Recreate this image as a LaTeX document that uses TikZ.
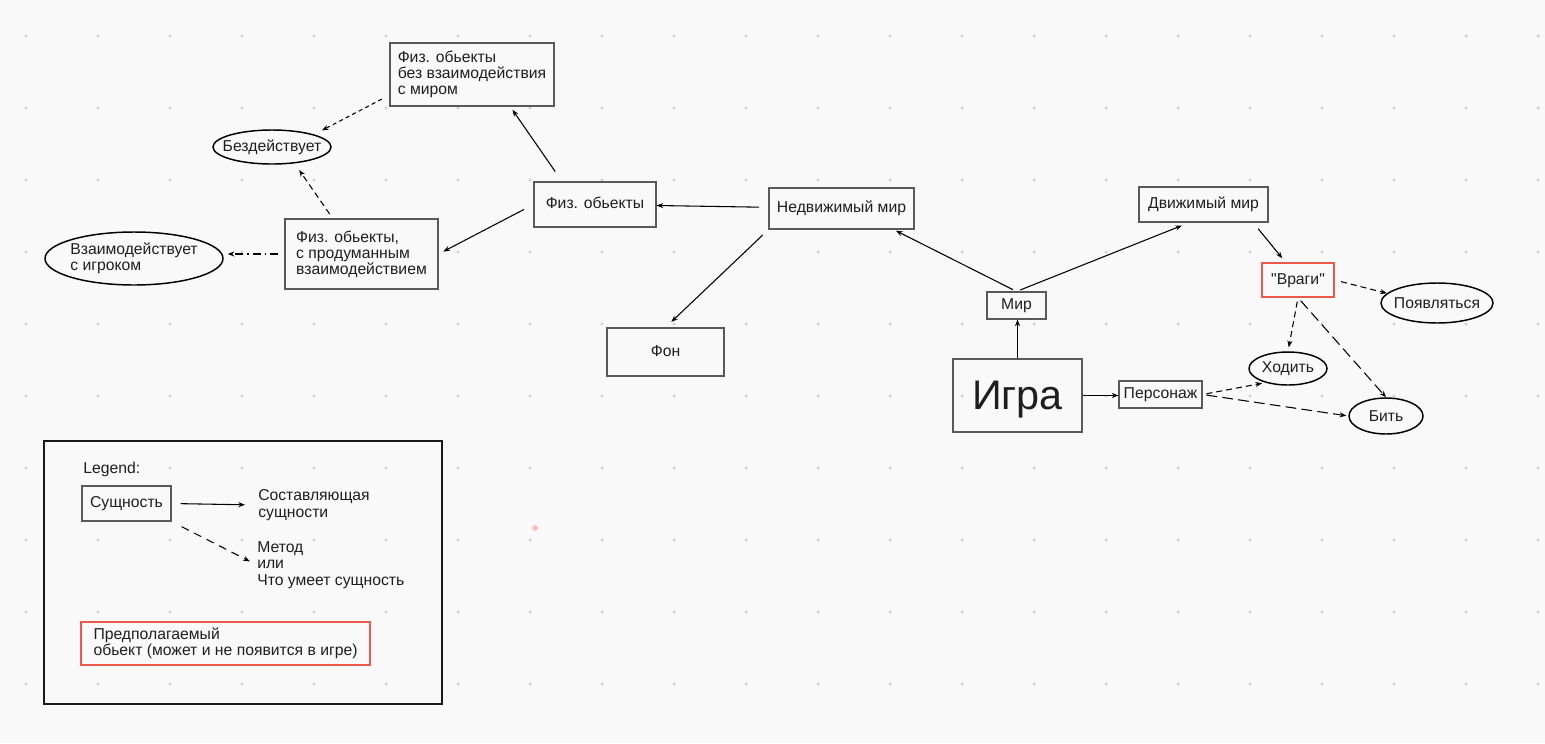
\documentclass[tikz,border=0pt]{standalone}
\usepackage{fontspec}
\setmainfont{Liberation Sans}
\usetikzlibrary{arrows.meta, shapes.geometric, calc}
\definecolor{sheet}{RGB}{249,249,249}
\definecolor{griddot}{RGB}{208,208,208}
\definecolor{ink}{RGB}{30,30,30}
\definecolor{guessred}{RGB}{234,88,78}
\tikzset{
  entity/.style={
    draw=black!65,
    line width=0.8pt,
    inner sep=2pt,
    align=left,
    text=ink,
    font=\fontsize{11.8pt}{12pt}\selectfont
  },
  oneline/.style={
    text height=8.6pt,
    text depth=2.6pt
  },
  action/.style={
    ellipse,
    draw=black,
    line width=1.1pt,
    inner xsep=-40pt,
    inner ysep=0pt,
    align=left,
    text=ink,
    font=\fontsize{11.8pt}{12pt}\selectfont
  },
  guess/.style={
    entity,
    draw=guessred,
    line width=1pt
  },
  note/.style={
    anchor=west,
    inner sep=0pt,
    align=left,
    text=ink,
    font=\fontsize{11.8pt}{12.4pt}\selectfont
  },
  haspart/.style={
    -{Stealth[length=5pt,width=3.8pt]},
    line width=0.8pt,
    draw=black
  },
  method/.style={
    haspart,
    dash pattern=on 4.5pt off 3pt
  },
  methodlong/.style={
    haspart,
    dash pattern=on 8pt off 4pt
  },
  legendframe/.style={
    draw=black!90,
    line width=1.1pt
  }
}

\begin{document}
\begin{tikzpicture}[x=0.75pt, y=-0.75pt]
  % sheet with dot grid
  \fill[sheet] (0,0) rectangle (1545,743);
  \useasboundingbox (0,0) rectangle (1545,743);
  \foreach \i in {0,...,21}
    \foreach \j in {0,...,9}
      \fill[griddot] (26+72*\i, 36+72*\j) circle (1.3pt);
  \fill[red!25] (535,528) circle (2.2pt);

  % left part: static world
  \node[entity, minimum width=123pt, minimum height=47.25pt] (fizbez) at (472,74.5) {Физ. обьекты\\без взаимодействия\\с миром};
  \node[action, minimum width=88.5pt, minimum height=25.5pt] (bezd) at (272,147) {Бездействует};
  \node[entity, oneline, minimum width=91.5pt, minimum height=33.75pt] (fizob) at (595,204.5) {Физ. обьекты};
  \node[entity, oneline, minimum width=108.75pt, minimum height=30.75pt] (nedv) at (841.5,208.5) {Недвижимый мир};
  \node[entity, minimum width=114.75pt, minimum height=52.5pt] (fizprod) at (361.5,254) {Физ. обьекты,\\с продуманным\\взаимодействием};
  \node[action, minimum width=133.5pt, minimum height=39.75pt] (vzaim) at (134,258.5) {Взаимодействует\\с игроком};
  \node[entity, oneline, minimum width=87.75pt, minimum height=36pt, align=center] (fon) at (665.5,352) {Фон};

  % right part: game, world, moving world
  \node[entity, oneline, minimum width=44.25pt, minimum height=20.25pt] (mir) at (1016.5,305.5) {Мир};
  \node[entity, minimum width=96.75pt, minimum height=54.75pt, text height=22pt, text depth=1pt, font=\fontsize{31pt}{36pt}\selectfont] (igra) at (1017.5,395.5) {Игра};
  \node[entity, oneline, minimum width=62.25pt, minimum height=20.25pt, inner sep=0pt] (pers) at (1160.5,394.5) {Персонаж};
  \node[entity, oneline, minimum width=96.75pt, minimum height=26.25pt] (dvizh) at (1203.5,204.5) {Движимый мир};
  \node[guess, oneline, minimum width=54pt, minimum height=25.5pt] (vragi) at (1298,280) {\textquotedbl Враги\textquotedbl};
  \node[action, minimum width=84pt, minimum height=30pt] (pojav) at (1437,303) {Появляться};
  \node[action, minimum width=58.5pt, minimum height=24.75pt] (hod) at (1288,368.5) {Ходить};
  \node[action, minimum width=55.5pt, minimum height=27pt] (bit) at (1386,416) {Бить};

  % parts
  \draw[haspart, shorten <=7pt] (nedv) -- (fizob);
  \draw[haspart, shorten <=6pt, shorten >=6pt] (nedv.south west) -- (fon.north);
  \draw[haspart, shorten <=9pt, shorten >=3pt] (fizob.145) -- (fizbez.-40);
  \draw[haspart, shorten <=8pt, shorten >=4pt] (fizob.west) -- (fizprod.east);
  \draw[haspart, shorten <=3pt, shorten >=2pt] (mir.north) -- (nedv.-22);
  \draw[haspart, shorten <=3pt, shorten >=6pt] (mir.north) -- (dvizh.-128);
  \draw[haspart, shorten <=6pt, shorten >=4pt] (dvizh.-20) -- (vragi.125);
  \draw[haspart] (igra.north) -- (igra.north |- mir.south);
  \draw[haspart] (igra.east) -- (igra.east -| pers.west);

  % methods
  \draw[method, dash pattern=on 3pt off 2.5pt, shorten <=6.5pt, shorten >=6.5pt] (fizbez.194) -- (bezd.north east);
  \draw[method, shorten <=4pt, shorten >=6pt] (fizprod.129) -- (bezd.-36);
  \draw[method, dash pattern=on 6pt off 3pt on 1.2pt off 3pt, shorten <=4.5pt, shorten >=3pt] (fizprod.west) -- (fizprod.west -| vzaim.east);
  \draw[method, shorten <=5pt] (vragi.east) -- (pojav.169);
  \draw[method, shorten <=3pt, shorten >=3pt] (vragi.south) -- (hod.north);
  \draw[methodlong, shorten <=3pt] (vragi.south) -- (bit.north);
  \draw[method, shorten <=3pt, shorten >=2.5pt] (pers.east) -- (hod.-148);
  \draw[methodlong, shorten <=3pt, shorten >=1.5pt] (pers.east) -- (bit.west);

  % legend
  \draw[legendframe] (44,441) rectangle (442,704);
  \node[note] (legtitle) at (83,469) {Legend:};
  \node[entity, oneline, minimum width=66.75pt, minimum height=26.25pt] (ent) at (126.5,503.5) {Сущность};
  \node[note] (comptext) at (258,505) {Составляющая\\сущности};
  \node[note] (methtext) at (257,565) {Метод\\или\\Что умеет сущность};
  \node[guess, minimum width=216.75pt, minimum height=32.25pt] (guesstext) at (225.5,643.5) {Предполагаемый\\обьект (может и не появится в игре)};
  \draw[haspart, shorten <=6.75pt, shorten >=9.75pt] (ent.east) -- (comptext.west);
  \draw[method, dash pattern=on 6pt off 4.5pt, shorten <=8.5pt, shorten >=6pt] (ent.south east) -- (methtext.west);
\end{tikzpicture}
\end{document}
